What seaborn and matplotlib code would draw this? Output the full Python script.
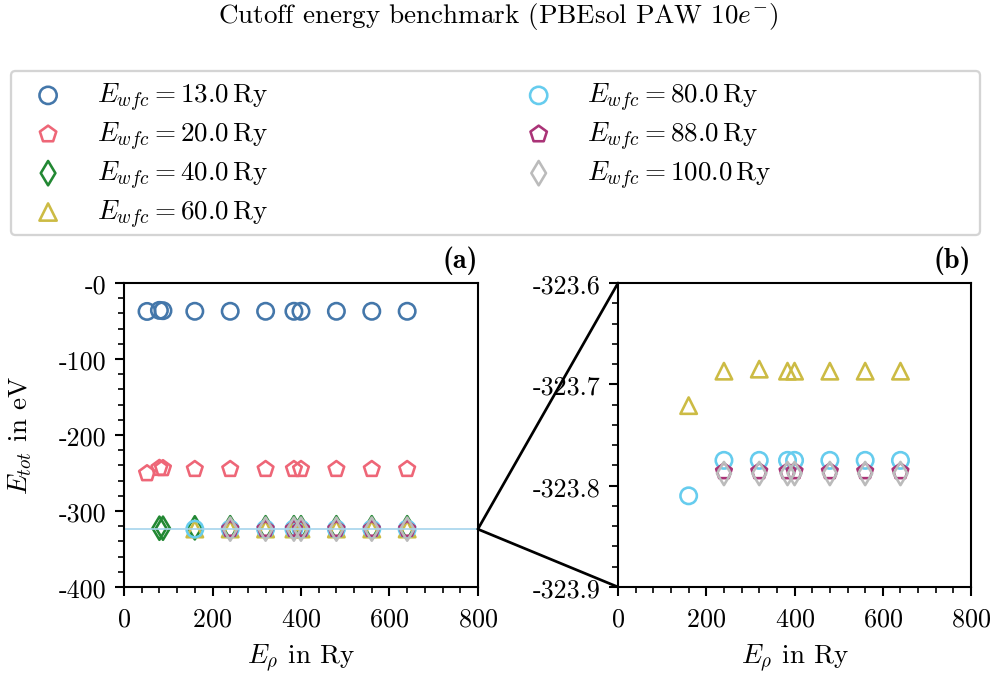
import matplotlib
matplotlib.use("Agg")
import matplotlib.pyplot as plt
from matplotlib.patches import Rectangle, ConnectionPatch, FancyBboxPatch
from matplotlib.ticker import MultipleLocator, FixedLocator, FixedFormatter, StrMethodFormatter
import seaborn as sns
import pandas as pd

# ---- data -----------------------------------------------------------------
ecut_wfc = [13.0, 20.0, 40.0, 60.0, 80.0, 88.0, 100.0]

rho_13 = [52, 80, 88, 160, 240, 320, 384, 400, 480, 560, 640]
etot_13 = [-37.4, -36.0, -36.4, -37.2, -37.2, -37.2, -37.2, -37.2, -37.2, -37.2, -37.2]

rho_20 = [52, 80, 88, 160, 240, 320, 384, 400, 480, 560, 640]
etot_20 = [-250.6, -243.6, -243.9, -245.0, -245.0, -245.0, -245.0, -245.0, -245.0, -245.0, -245.0]

rho_40 = [80, 88, 160, 240, 320, 384, 400, 480, 560, 640]
etot_40 = [-322.6, -322.6, -322.1, -322.0, -322.0, -322.0, -322.0, -322.0, -322.0, -322.0]

rho_60 = [160, 240, 320, 384, 400, 480, 560, 640]
etot_60 = [-323.721, -323.687, -323.685, -323.687, -323.687, -323.687, -323.687, -323.687]

rho_80 = [160, 240, 320, 384, 400, 480, 560, 640]
etot_80 = [-323.810, -323.775, -323.775, -323.775, -323.775, -323.775, -323.775, -323.775]

rho_88 = [240, 320, 384, 400, 480, 560, 640]
etot_88 = [-323.786, -323.786, -323.786, -323.786, -323.786, -323.786, -323.786]

rho_100 = [240, 320, 384, 400, 480, 560, 640]
etot_100 = [-323.788, -323.788, -323.788, -323.788, -323.788, -323.788, -323.788]

series_rho = [rho_13, rho_20, rho_40, rho_60, rho_80, rho_88, rho_100]
series_etot = [etot_13, etot_20, etot_40, etot_60, etot_80, etot_88, etot_100]

# Paul Tol "bright" palette and one marker per cutoff
colors = ["#4477AA", "#EE6677", "#228833", "#CCBB44", "#66CCEE", "#AA3377", "#BBBBBB"]
markers = ["o", "p", "d", "^", "o", "p", "d"]

# axis ticks
xticks = [0, 200, 400, 600, 800]
yticks_a = [0, -100, -200, -300, -400]
yticklabels_a = ["-0", "-100", "-200", "-300", "-400"]
zoom_lo, zoom_hi = -323.9, -323.6

# ---- style ----------------------------------------------------------------
sns.set_theme(style="ticks")
plt.rcParams.update({
    "font.family": ["cmr10"],
    "mathtext.fontset": "cm",
    "axes.unicode_minus": False,
    "axes.formatter.use_mathtext": True,
    "font.size": 13,
    "text.color": "black",
    "axes.labelcolor": "black",
    "axes.linewidth": 1.0,
    "xtick.major.size": 4.5, "ytick.major.size": 4.5,
    "xtick.minor.size": 3.0, "ytick.minor.size": 3.0,
    "xtick.major.width": 1.0, "ytick.major.width": 1.0,
    "xtick.minor.width": 0.8, "ytick.minor.width": 0.8,
    "xtick.major.pad": 5.0, "ytick.major.pad": 4.0,
    "xtick.labelsize": 12.5, "ytick.labelsize": 12.5,
    "axes.labelsize": 13,
    "axes.edgecolor": "black",
    "xtick.color": "black", "ytick.color": "black",
})

W, H = 997 / 150, 678 / 150
fig = plt.figure(figsize=(W, H), dpi=150)
ax_a = fig.add_axes([0.1244, 0.1327, 0.3550, 0.4484])
ax_b = fig.add_axes([0.6199, 0.1327, 0.3541, 0.4484])

for ax in (ax_a, ax_b):
    for e, xs, ys, c, m in zip(ecut_wfc, series_rho, series_etot, colors, markers):
        df = pd.DataFrame({"rho": xs, "etot": ys})
        sns.scatterplot(data=df, x="rho", y="etot", ax=ax, marker=m, s=62,
                        color=c, facecolors="none", edgecolor=c, linewidth=1.25,
                        label=rf"$E_{{wfc}} = {e:.1f}\,\mathrm{{Ry}}$", legend=False)
    ax.set_xlim(0, 800)
    ax.xaxis.set_major_locator(FixedLocator(xticks))
    ax.xaxis.set_minor_locator(MultipleLocator(40))
    ax.set_xlabel(r"$E_\rho$ in Ry", labelpad=5)
    ax.set_ylabel("")
    ax.tick_params(which="both", direction="out", top=False, right=False)

# panel (a): full range
ax_a.set_ylim(-400, 0)
ax_a.yaxis.set_major_locator(FixedLocator(yticks_a))
ax_a.yaxis.set_major_formatter(FixedFormatter(yticklabels_a))
ax_a.yaxis.set_minor_locator(MultipleLocator(20))
ax_a.set_ylabel(r"$E_{tot}$ in eV")
ax_a.yaxis.set_label_coords(-0.255, 0.5)

# panel (b): zoom on the converged window
ax_b.set_ylim(zoom_lo, zoom_hi)
ax_b.yaxis.set_major_locator(MultipleLocator(0.1))
ax_b.yaxis.set_minor_locator(MultipleLocator(0.02))
ax_b.yaxis.set_major_formatter(StrMethodFormatter("{x:.1f}"))

for ax, tag in ((ax_a, "(a)"), (ax_b, "(b)")):
    ax.text(1.0, 1.03, tag, transform=ax.transAxes, ha="right", va="bottom",
            fontsize=13.5, family=["cmb10"])

# inset indicator in (a) and connectors to (b)
ax_a.add_patch(Rectangle((0, zoom_lo), 800, zoom_hi - zoom_lo, fill=False,
                         edgecolor="#a6d4ec", lw=0.8, zorder=1))
for yb, ya in ((1, zoom_hi), (0, zoom_lo)):
    con = ConnectionPatch(xyA=(800, ya), coordsA=ax_a.transData,
                          xyB=(0, yb), coordsB=ax_b.transAxes,
                          color="black", lw=1.3)
    fig.add_artist(con)

# legend: entries in two columns inside a rounded frame spanning the width
handles, labels = ax_a.get_legend_handles_labels()
fig.legend(handles, labels, loc="upper left", ncol=2, frameon=False,
           bbox_to_anchor=(21 / 997, 1 - 82 / 678), borderaxespad=0, borderpad=0,
           fontsize=13, handlelength=2.0, handletextpad=0.8, labelspacing=0.25,
           columnspacing=9.0, markerscale=1.05)
frame = FancyBboxPatch((11 / 150, (678 - 236) / 150), (980 - 11) / 150, (236 - 72) / 150,
                       boxstyle="round,pad=0,rounding_size=0.03",
                       transform=fig.dpi_scale_trans, facecolor="white",
                       edgecolor="#d4d4d4", lw=1.1, zorder=-1)
fig.add_artist(frame)

fig.text(0.5, 1 - 23 / 678, r"Cutoff energy benchmark (PBEsol PAW 10$e^{-}$)",
         ha="center", va="baseline", fontsize=13)

fig.savefig("out.png", dpi=150)
